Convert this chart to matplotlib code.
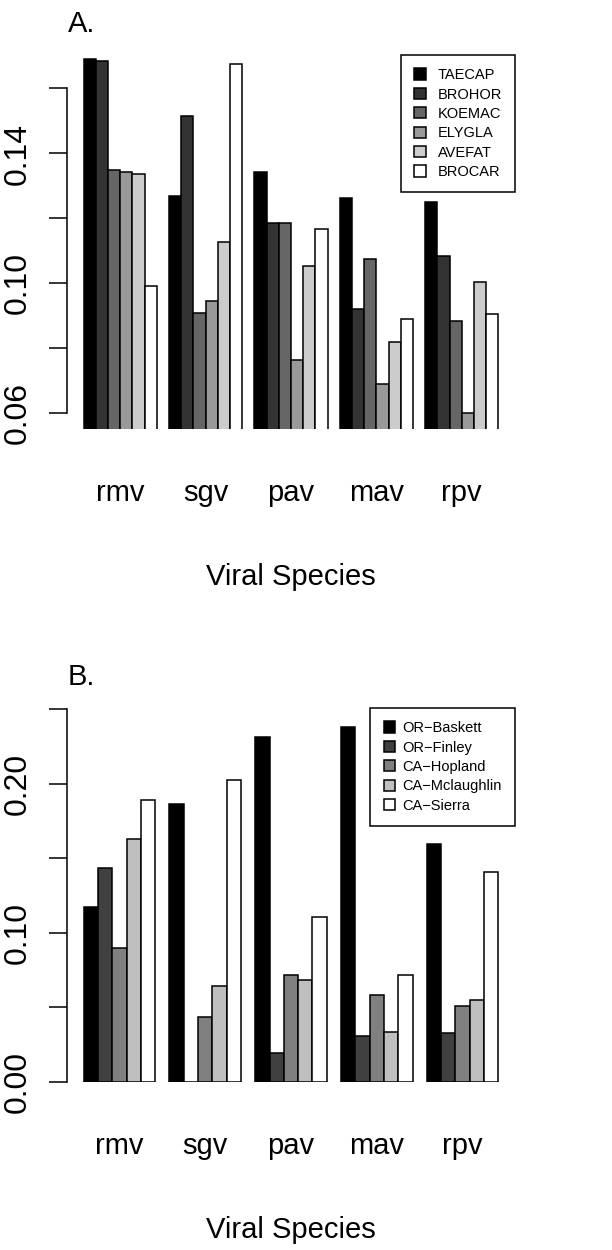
import matplotlib
matplotlib.use('Agg')
import matplotlib.pyplot as plt
import numpy as np

plt.rcParams['font.family'] = ['Liberation Sans', 'DejaVu Sans']

# x categories, shared by both panels
species = ['rmv', 'sgv', 'pav', 'mav', 'rpv']

# panel A: host species
hosts = ['TAECAP', 'BROHOR', 'KOEMAC', 'ELYGLA', 'AVEFAT', 'BROCAR']
hostVals = np.array([
    [0.1690, 0.1268, 0.1342, 0.1263, 0.1250],  # TAECAP
    [0.1684, 0.1516, 0.1186, 0.0920, 0.1084],  # BROHOR
    [0.1348, 0.0910, 0.1186, 0.1075, 0.0884],  # KOEMAC
    [0.1342, 0.0946, 0.0763, 0.0689, 0.0602],  # ELYGLA
    [0.1336, 0.1129, 0.1054, 0.0820, 0.1005],  # AVEFAT
    [0.0991, 0.1674, 0.1169, 0.0891, 0.0906],  # BROCAR
])
hostTicks = [0.06, 0.08, 0.10, 0.12, 0.14, 0.16]
hostTickLabels = ['0.06', '', '0.10', '', '0.14', '']

# panel B: sites
sites = ['OR\u2212Baskett', 'OR\u2212Finley', 'CA\u2212Hopland', 'CA\u2212Mclaughlin', 'CA\u2212Sierra']
siteVals = np.array([
    [0.1175, 0.1865, 0.2310, 0.2377, 0.1593],  # OR-Baskett
    [0.1432, 0.0000, 0.0192, 0.0310, 0.0330],  # OR-Finley
    [0.0898, 0.0438, 0.0717, 0.0585, 0.0507],  # CA-Hopland
    [0.1629, 0.0641, 0.0686, 0.0337, 0.0552],  # CA-Mclaughlin
    [0.1888, 0.2022, 0.1108, 0.0715, 0.1407],  # CA-Sierra
])
siteTicks = [0.00, 0.05, 0.10, 0.15, 0.20, 0.25]
siteTickLabels = ['0.00', '', '0.10', '', '0.20', '']


def groupedBars(ax, vals, names, ticks, tickLabels, ylim, hpad):
    '''
    R style beside=TRUE barplot: bars of width 1, one bar gap between groups
    '''
    n, m = vals.shape
    greys = np.linspace(0, 1, n)
    for i in range(n):
        left = 1 + np.arange(m) * (n + 1) + i
        ax.bar(left, vals[i], width=1, align='edge', bottom=0,
               color=str(greys[i]), edgecolor='black', linewidth=1.1,
               label=names[i])
    right = 1 + (m - 1) * (n + 1) + n
    ext = 0.04 * (right - 1)
    ax.set_xlim(1 - ext, right + ext)
    ax.set_ylim(*ylim)

    centers = 1 + np.arange(m) * (n + 1) + n / 2.0
    ax.set_xticks(centers)
    ax.set_xticklabels(species, fontsize=21)
    ax.tick_params(axis='x', length=0, pad=36)
    ax.set_xlabel('Viral Species', fontsize=21, labelpad=40)

    ax.set_yticks(ticks)
    ax.set_yticklabels(tickLabels, fontsize=23, rotation=90, va='center')
    ax.tick_params(axis='y', length=13, width=1.1, pad=12)

    # only the left axis line, from first to last tick
    for s in ['top', 'right', 'bottom']:
        ax.spines[s].set_visible(False)
    ax.spines['left'].set_bounds(ticks[0], ticks[-1])
    ax.spines['left'].set_linewidth(1.1)

    leg = ax.legend(loc='upper right', borderaxespad=0, fontsize=10.5,
                    fancybox=False, framealpha=1, edgecolor='black',
                    handlelength=0.8, handleheight=0.8, handletextpad=hpad,
                    labelspacing=0.37, borderpad=0.9)
    leg.get_frame().set_linewidth(1.1)


fig = plt.figure(figsize=(6.12, 12.5), dpi=100)

axA = fig.add_axes([67 / 612, 1 - 429 / 1250, 448 / 612, 374 / 1250])
groupedBars(axA, hostVals, hosts, hostTicks, hostTickLabels, (0.0552, 0.1703), 0.8)

axB = fig.add_axes([67 / 612, 1 - 1082 / 1250, 448 / 612, 374 / 1250])
groupedBars(axB, siteVals, sites, siteTicks, siteTickLabels, (0.0, 0.2507), 0.5)

fig.text(68 / 612, 1 - 32 / 1250, 'A.', fontsize=21, va='baseline', ha='left')
fig.text(68 / 612, 1 - 685 / 1250, 'B.', fontsize=21, va='baseline', ha='left')

fig.savefig('out.png', dpi=100)
